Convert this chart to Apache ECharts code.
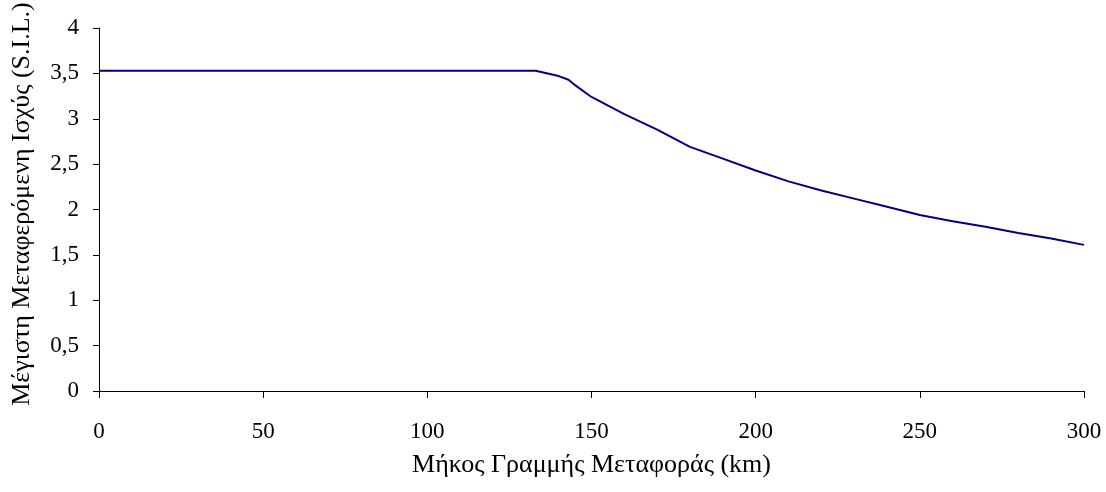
<!DOCTYPE html>
<html>
<head>
<meta charset="utf-8">
<script src="https://cdn.jsdelivr.net/npm/echarts@6/dist/echarts.min.js"></script>
<style>
  html, body { margin: 0; padding: 0; background: #fff; }
  #chart { width: 1106px; height: 492px; }
</style>
</head>
<body>
<div id="chart"></div>
<script>
// Line length (km) and maximum transferable power (in S.I.L.)
const lengthKm = [0, 133, 140, 143, 145, 150, 160, 170, 180, 190, 200, 210, 220, 230, 240, 250, 260, 270, 280, 290, 300];
const maxPower = [3.53, 3.53, 3.47, 3.43, 3.37, 3.24, 3.05, 2.88, 2.69, 2.56, 2.43, 2.31, 2.21, 2.12, 2.03, 1.94, 1.87, 1.81, 1.74, 1.68, 1.61];

const xTitle = 'Μήκος Γραμμής Μεταφοράς (km)';
const yTitle = 'Μέγιστη Μεταφερόμενη Ισχύς (S.I.L.)';

const points = lengthKm.map((x, i) => [x, maxPower[i]]);
const font = 'Liberation Serif, Times New Roman, serif';

const chart = echarts.init(document.getElementById('chart'), null, { renderer: 'canvas' });
chart.setOption({
  animation: false,
  backgroundColor: '#ffffff',
  grid: { left: 99, right: 22, top: 28, bottom: 101, containLabel: false },
  // vertical axis title, set slightly above the plot's mid-height
  graphic: [{
    type: 'text',
    x: 22, y: 204,
    rotation: Math.PI / 2,
    style: {
      text: yTitle,
      fontFamily: font, fontSize: 26, fill: '#000',
      textAlign: 'center', textVerticalAlign: 'middle'
    }
  }],
  xAxis: {
    type: 'value',
    min: 0, max: 300, interval: 50,
    name: xTitle,
    nameLocation: 'middle',
    nameGap: 61,
    nameTextStyle: { fontFamily: font, fontSize: 26, color: '#000' },
    axisLine: { lineStyle: { color: '#000', width: 1 } },
    axisTick: { show: true, length: 7, lineStyle: { color: '#000' } },
    axisLabel: { fontFamily: font, fontSize: 23, color: '#000', margin: 29 },
    splitLine: { show: false }
  },
  yAxis: {
    type: 'value',
    min: 0, max: 4, interval: 0.5,
    axisLine: { show: true, lineStyle: { color: '#000', width: 1 } },
    axisTick: { show: true, length: 6, lineStyle: { color: '#000' } },
    axisLabel: {
      fontFamily: font, fontSize: 23, color: '#000', margin: 20,
      formatter: v => String(v).replace('.', ',')
    },
    splitLine: { show: false }
  },
  series: [{
    type: 'line',
    data: points,
    showSymbol: false,
    smooth: false,
    lineStyle: { color: '#000080', width: 2 }
  }]
});
</script>
</body>
</html>
